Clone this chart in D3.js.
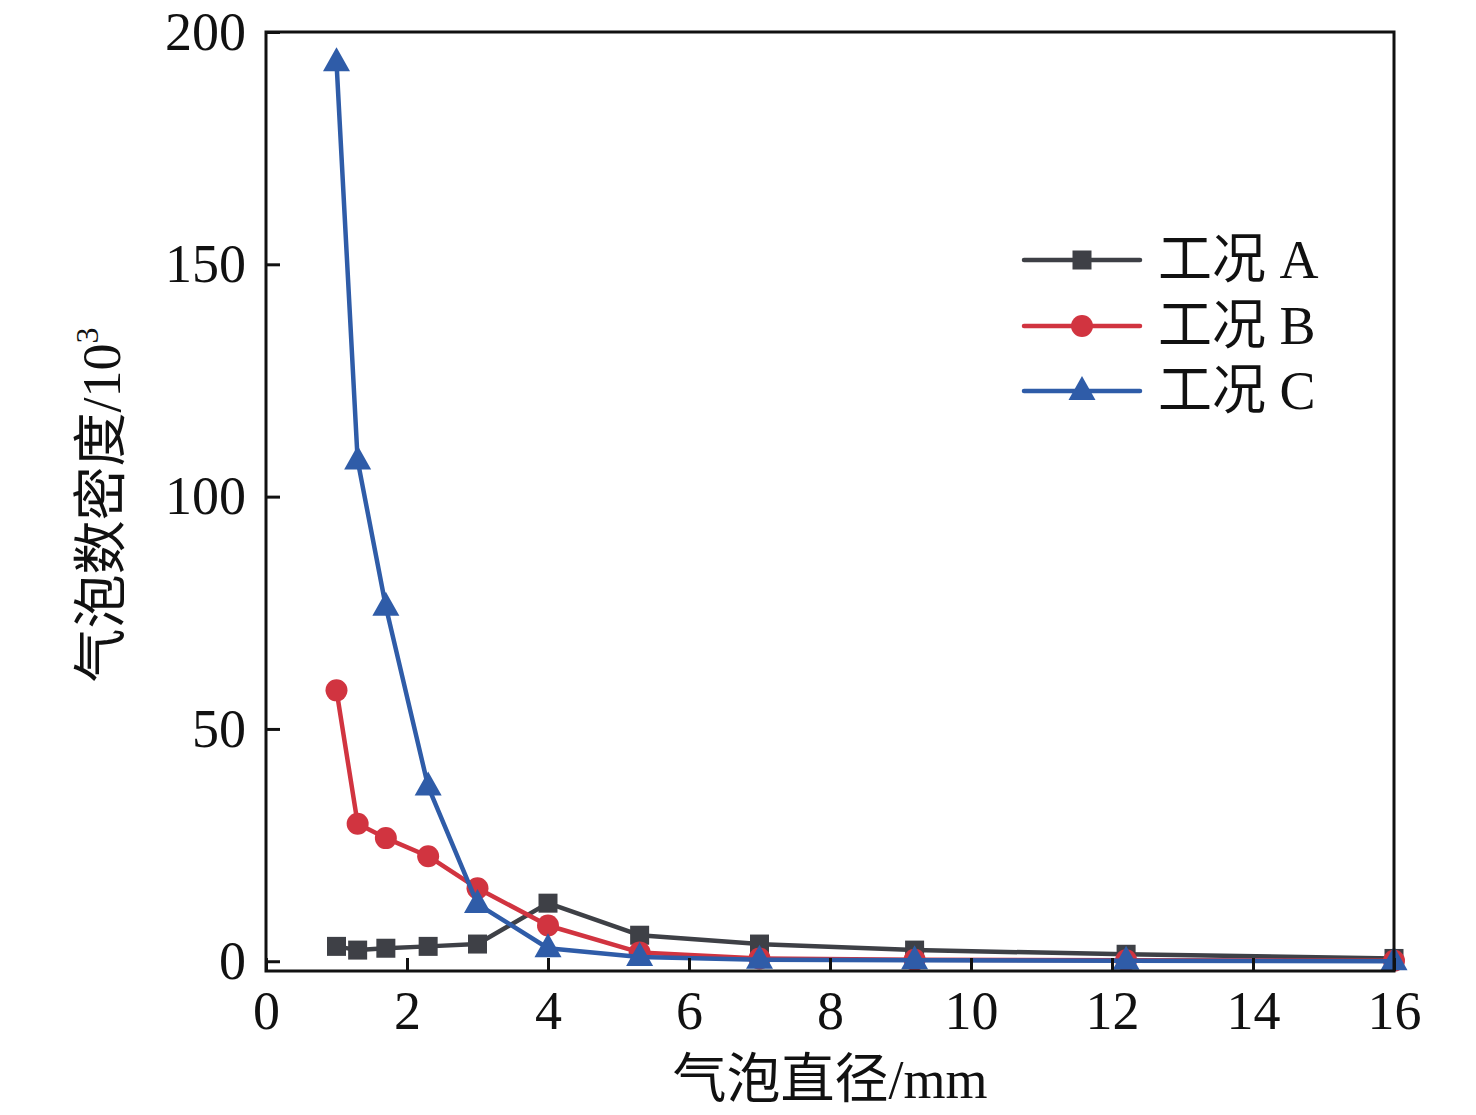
<!DOCTYPE html>
<html>
<head>
<meta charset="utf-8">
<script src="https://cdn.jsdelivr.net/npm/d3@7"></script>
<style>
  body { margin: 0; background: #fff; }
  text { font-family: "Liberation Serif", "Noto Sans CJK SC", serif; fill: #111; }
</style>
</head>
<body>
<script>
// bubble diameter (mm)
var diameters = [1, 1.3, 1.7, 2.3, 3, 4, 5.3, 7, 9.2, 12.2, 16];
// bubble number density / 10^3
var caseA = [3.2, 2.4, 2.8, 3.2, 3.7, 12.5, 5.6, 3.7, 2.4, 1.5, 0.6];
var caseB = [58.3, 29.6, 26.5, 22.6, 15.7, 7.7, 1.9, 0.6, 0.3, 0.2, 0.1];
var caseC = [193.5, 107.8, 76.3, 37.6, 12.3, 2.8, 0.9, 0.3, 0.2, 0.1, 0];
var seriesNames = ['工况 A', '工况 B', '工况 C'];
var xTicks = [0, 2, 4, 6, 8, 10, 12, 14, 16];
var yTicks = [0, 50, 100, 150, 200];

var W = 1476, H = 1115;
var margin = {top: 32, right: 82, bottom: 144, left: 266};
var width = W - margin.left - margin.right,
    height = H - margin.top - margin.bottom;

var svg = d3.select('body')
  .append('svg')
  .attr('width', W)
  .attr('height', H)

let chart = svg.append('g')
  .attr('transform', `translate(${margin.left},${margin.top})`)

var x = d3.scaleLinear()
    .domain([0, 16])
    .range([0, width])
var y = d3.scaleLinear()
    .domain([-2.1, 200])
    .range([height, 0])

var series = [
  {name: seriesNames[0], values: caseA, color: '#3e4046', shape: 'square'},
  {name: seriesNames[1], values: caseB, color: '#d13440', shape: 'circle'},
  {name: seriesNames[2], values: caseC, color: '#2f5ca8', shape: 'triangle'}
];

function marker(g, shape, color) {
  if (shape === 'square') {
    g.append('rect').attr('x', -9.5).attr('y', -9.5).attr('width', 19).attr('height', 19)
      .attr('fill', color)
  } else if (shape === 'circle') {
    g.append('circle').attr('r', 11).attr('fill', color)
  } else {
    g.append('path').attr('d', 'M0,-15L13.5,9L-13.5,9Z').attr('fill', color)
  }
}

var line = d3.line()
  .x((d, i) => x(diameters[i]))
  .y(d => y(d))

series.forEach(function(s) {
  chart.append('path')
    .datum(s.values)
    .attr('d', line)
    .attr('fill', 'none')
    .attr('stroke', s.color)
    .attr('stroke-width', 4.5)
    .attr('stroke-linejoin', 'round')
  s.values.forEach(function(v, i) {
    let g = chart.append('g')
      .attr('transform', `translate(${x(diameters[i])},${y(v)})`)
    marker(g, s.shape, s.color)
  })
})

// frame
chart.append('rect')
  .attr('x', 0).attr('y', 0)
  .attr('width', width).attr('height', height)
  .attr('fill', 'none')
  .attr('stroke', '#111')
  .attr('stroke-width', 3)

function xAxis(g) {
  g.attr('transform', `translate(0,${height})`)
   .call(d3.axisBottom(x).tickValues(xTicks).tickSize(-13).tickPadding(24))
   .attr('font-size', '54px')
   .call(g => g.select('.domain').remove())
   .call(g => g.selectAll('line').attr('stroke', '#111').attr('stroke-width', 3))
   .call(g => g.selectAll('text').attr('dy', '0.71em').attr('y', 20))
}
function yAxis(g) {
  g.call(d3.axisLeft(y).tickValues(yTicks).tickSize(-14).tickPadding(20))
   .attr('font-size', '54px')
   .call(g => g.select('.domain').remove())
   .call(g => g.selectAll('line').attr('stroke', '#111').attr('stroke-width', 3))
   .call(g => g.selectAll('text').attr('x', -20))
}
chart.append('g').call(xAxis);
chart.append('g').call(yAxis);
chart.selectAll('.tick text').attr('font-family', '"Liberation Serif", serif').attr('fill', '#111')

// axis titles
svg.append('text')
  .attr('x', 830).attr('y', 1098)
  .attr('text-anchor', 'middle')
  .attr('font-size', '54px')
  .text('气泡直径/mm')

let yt = svg.append('text')
  .attr('transform', 'translate(120,505) rotate(-90)')
  .attr('text-anchor', 'middle')
  .attr('font-size', '54px')
yt.append('tspan').text('气泡数密度/10')
yt.append('tspan').attr('font-size', '32px').attr('dy', '-22').text('3')

// legend
var legendY = [260, 326, 391];
series.forEach(function(s, i) {
  let g = svg.append('g').attr('transform', `translate(1082,${legendY[i]})`)
  g.append('line').attr('x1', -58).attr('x2', 58)
    .attr('stroke', s.color).attr('stroke-width', 4.5).attr('stroke-linecap', 'round')
  marker(g, s.shape, s.color)
  g.append('text').attr('x', 76).attr('y', 18)
    .attr('font-size', '54px')
    .text(s.name)
})
</script>
</body>
</html>
